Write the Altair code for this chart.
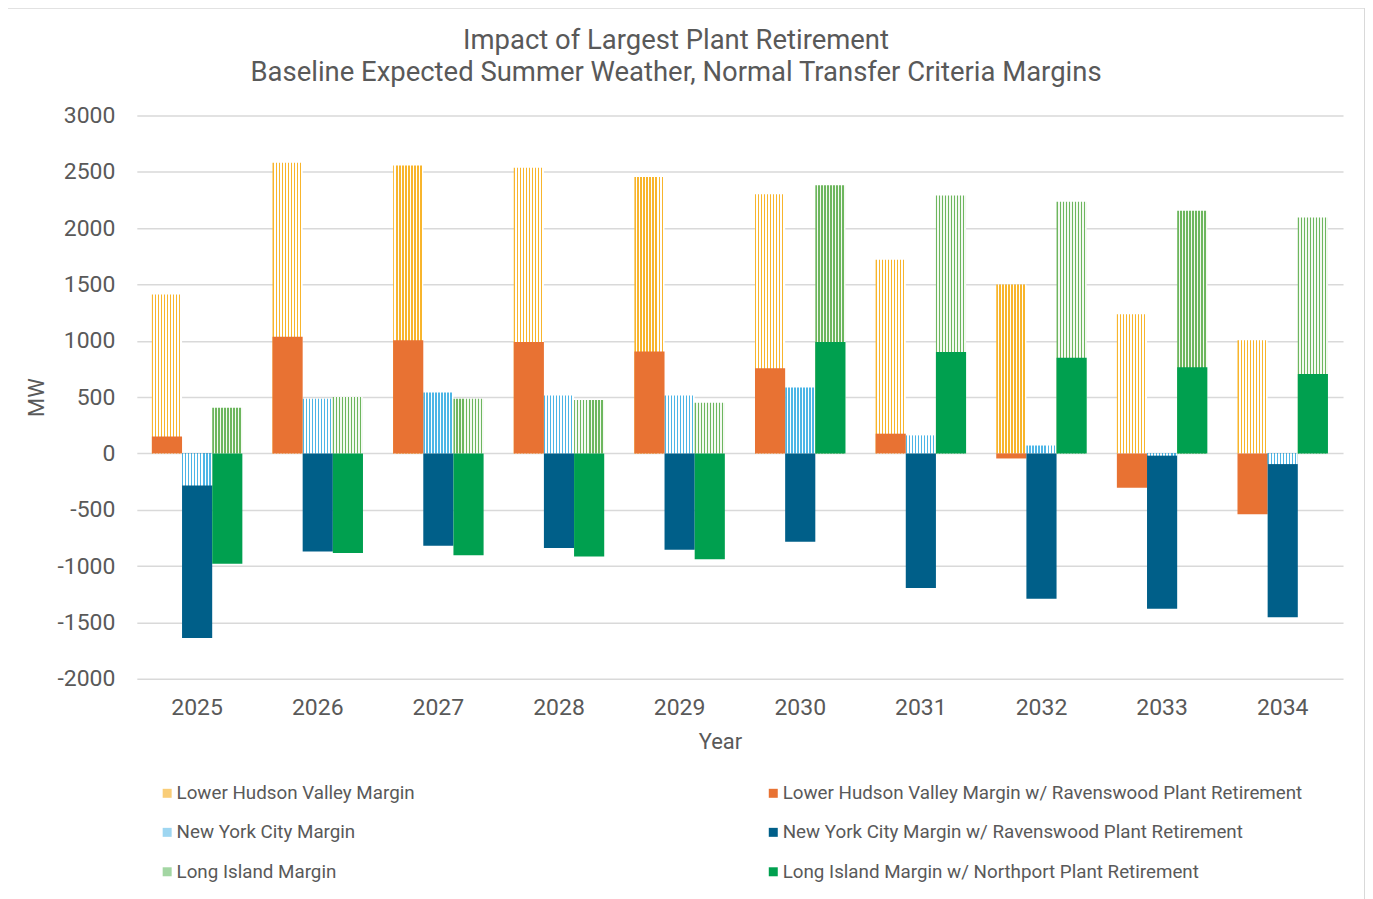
import altair as alt
import pandas as pd

years = [2025, 2026, 2027, 2028, 2029, 2030, 2031, 2032, 2033, 2034]
lhv_margin = [1410, 2580, 2555, 2535, 2455, 2300, 1720, 1500, 1235, 1005]
lhv_retire = [150, 1035, 1005, 990, 905, 755, 175, -45, -305, -540]
nyc_margin = [-285, 485, 540, 515, 515, 585, 160, 70, -20, -95]
nyc_retire = [-1640, -870, -820, -840, -855, -785, -1195, -1290, -1380, -1455]
li_margin = [405, 500, 485, 475, 450, 2380, 2290, 2235, 2155, 2095]
li_retire = [-980, -885, -905, -915, -940, 990, 900, 850, 765, 705]

regions = ["LHV", "NYC", "LI"]
margin_labels = ["Lower Hudson Valley Margin", "New York City Margin", "Long Island Margin"]
retire_labels = [
    "Lower Hudson Valley Margin w/ Ravenswood Plant Retirement",
    "New York City Margin w/ Ravenswood Plant Retirement",
    "Long Island Margin w/ Northport Plant Retirement",
]
dot_colors = ["#F8B52C", "#4DB6E6", "#6DB65E"]
dot_gap = ["#FFFFFF", "#FFFFFF", "#F4F9F2"]
tint_colors = ["#F9CD78", "#9ED6F1", "#A3D6A3"]
solid_colors = ["#E87233", "#005F89", "#00A04F"]

rows = []
series_m = [lhv_margin, nyc_margin, li_margin]
series_r = [lhv_retire, nyc_retire, li_retire]
for i, r in enumerate(regions):
    for j, y in enumerate(years):
        rows.append({"year": str(y), "region": r, "kind": "margin",
                     "series": margin_labels[i], "value": series_m[i][j]})
        rows.append({"year": str(y), "region": r, "kind": "retire",
                     "series": retire_labels[i], "value": series_r[i][j]})
df = pd.DataFrame(rows)

legend_domain = []
legend_range = []
for i in range(3):
    legend_domain += [margin_labels[i], retire_labels[i]]
    legend_range += [tint_colors[i], solid_colors[i]]

FONT = "Roboto"
GRAY = "#595959"


def stripes(col, gap, n=10, frac=0.45):
    stops = []
    for k in range(n):
        a = k / n
        m = (k + frac) / n
        b = (k + 1) / n
        stops += [
            {"offset": a, "color": col},
            {"offset": m, "color": col},
            {"offset": m, "color": gap},
            {"offset": b, "color": gap},
        ]
    return {"gradient": "linear", "x1": 0, "y1": 0, "x2": 1, "y2": 0, "stops": stops}


x_enc = alt.X("year:N", title="Year",
              scale=alt.Scale(paddingInner=0.25, paddingOuter=0.125),
              axis=alt.Axis(labelAngle=0, ticks=False, domain=False, labelFontSize=23,
                            titleFontSize=22, labelPadding=18, titlePadding=12,
                            titleX=584,
                            titleFontWeight="normal", labelFont=FONT, titleFont=FONT,
                            labelColor=GRAY, titleColor=GRAY))
xo_enc = alt.XOffset("region:N", scale=alt.Scale(domain=regions, paddingInner=0, paddingOuter=0))
y_enc = alt.Y("value:Q", title="MW",
              scale=alt.Scale(domain=[-2000, 3000], nice=False, zero=False),
              axis=alt.Axis(values=list(range(-2000, 3001, 500)), ticks=False, domain=False,
                            labelExpr="datum.value + ''",
                            labelFontSize=23, titleFontSize=22, labelPadding=22,
                            titlePadding=8, titleFontWeight="normal",
                            labelFont=FONT, titleFont=FONT,
                            labelColor=GRAY, titleColor=GRAY,
                            gridColor="#D9D9D9", gridWidth=1.5))

base = alt.Chart(df)

margin_layers = []
neg_layers = []
for i, r in enumerate(regions):
    fill = stripes(dot_colors[i], dot_gap[i])
    margin_layers.append(
        base.transform_filter((alt.datum.kind == "margin") & (alt.datum.region == r))
        .mark_bar(fill=fill)
        .encode(x=x_enc, xOffset=xo_enc, y=y_enc)
    )
    neg_layers.append(
        base.transform_filter((alt.datum.kind == "margin") & (alt.datum.region == r)
                              & (alt.datum.value < 0))
        .mark_bar(fill=fill)
        .encode(x=x_enc, xOffset=xo_enc, y=y_enc)
    )

retire_layer = (
    base.transform_filter(alt.datum.kind == "retire")
    .mark_bar()
    .encode(
        x=x_enc, xOffset=xo_enc, y=y_enc,
        color=alt.Color("series:N",
                        scale=alt.Scale(domain=legend_domain, range=legend_range),
                        legend=alt.Legend(orient="none", legendX=21, legendY=669,
                                          direction="horizontal",
                                          columns=2, columnPadding=349, rowPadding=19.5,
                                          symbolType="square", symbolSize=81,
                                          symbolStrokeWidth=0, labelFontSize=18.8,
                                          labelFont=FONT, labelColor=GRAY, labelLimit=0,
                                          labelOffset=0, padding=0, title=None)),
    )
)

frame = alt.Chart(alt.Data(values=[{"a": 1}])).mark_rect(
    filled=False, stroke="#D9D9D9", strokeWidth=2
).encode(x=alt.value(-131), x2=alt.value(1230), y=alt.value(-108), y2=alt.value(800))

chart = alt.layer(
    frame, *margin_layers, retire_layer, *neg_layers
).properties(
    width=1208,
    height=564,
    background="white",
    autosize=alt.AutoSizeParams(type="none"),
    padding={"left": 129, "top": 107, "right": 22, "bottom": 220},
    title=alt.TitleParams(
        ["Impact of Largest Plant Retirement",
         "Baseline Expected Summer Weather, Normal Transfer Criteria Margins"],
        fontSize=27.5, font=FONT, fontWeight="normal", color=GRAY, anchor="middle",
        frame="group", lineHeight=32, offset=-80, dx=-64,
    ),
).configure_view(stroke="transparent", strokeWidth=0)

chart.save("out.html", embed_options={"renderer": "svg", "actions": False})
